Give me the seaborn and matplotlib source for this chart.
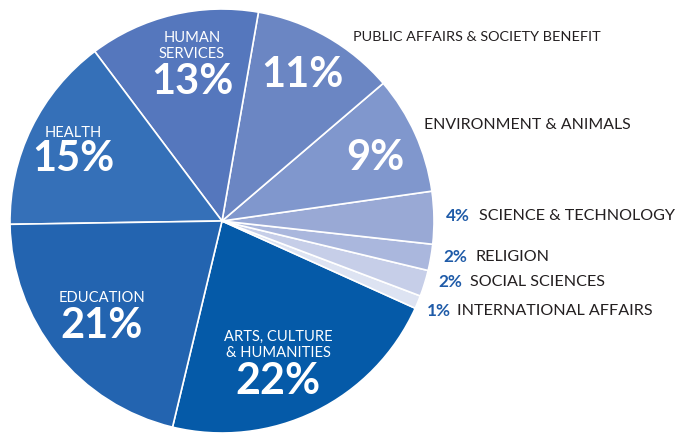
import matplotlib
matplotlib.use('Agg')
import matplotlib.pyplot as plt
import seaborn as sns

sns.set_theme(style='white')
plt.rcParams['font.family'] = ['Lato', 'DejaVu Sans']

# data, in drawing order (counterclockwise from the arts slice)
categories = ['ARTS, CULTURE\n& HUMANITIES', 'INTERNATIONAL AFFAIRS', 'SOCIAL SCIENCES',
              'RELIGION', 'SCIENCE & TECHNOLOGY', 'ENVIRONMENT & ANIMALS',
              'PUBLIC AFFAIRS & SOCIETY BENEFIT', 'HUMAN\nSERVICES', 'HEALTH', 'EDUCATION']
shares = [22, 1, 2, 2, 4, 9, 11, 13, 15, 21]
colors = ['#055aa8', '#dde3f2', '#c6cee8', '#aab7dd', '#99a9d5', '#8097cd',
          '#6b86c3', '#5577bd', '#3570b8', '#2364b0']

W, H = 680, 435
fig = plt.figure(figsize=(W / 100, H / 100), dpi=100)
cx, cy, r = 222, 222, 212
ax = fig.add_axes([(cx - r) / W, (H - cy - r) / H, 2 * r / W, 2 * r / H])

ax.pie(shares, colors=colors, startangle=-103.5, counterclock=True, radius=1,
       wedgeprops=dict(edgecolor='white', linewidth=1.2))
ax.set_xlim(-1, 1)
ax.set_ylim(-1, 1)
ax.set_aspect('equal')
ax.axis('off')


def px(x, y):
    # pixel position in the picture -> data units of the pie
    return (x - cx) / r, (cy - y) / r


dark = '#231f20'
blue = '#1f5ba8'

# labels inside the big slices: (name, pct, name position, pct position)
inside = [
    ('HUMAN\nSERVICES', 13, (192, 46), (192, 82)),
    (None, 11, None, (302, 75)),
    ('HEALTH', 15, (73, 133), (73, 159)),
    (None, 9, None, (375, 158)),
    ('EDUCATION', 21, (102, 298), (102, 326)),
    ('ARTS, CULTURE\n& HUMANITIES', 22, (278, 345), (278, 381)),
]
for name, pct, npos, ppos in inside:
    if name:
        ax.text(*px(*npos), name, color='white', fontsize=10.6, ha='center', va='center',
                linespacing=1.2)
    ax.text(*px(*ppos), f'{pct}%', color='white', fontsize=31 if pct == 22 else 30,
            fontweight='bold', ha='center', va='center')

# labels outside the small slices
ax.text(*px(353, 37), 'PUBLIC AFFAIRS & SOCIETY BENEFIT', color=dark, fontsize=10.4,
        ha='left', va='center', clip_on=False)
ax.text(*px(424, 125), 'ENVIRONMENT & ANIMALS', color=dark, fontsize=11.4,
        ha='left', va='center', clip_on=False)
outside = [
    ('SCIENCE & TECHNOLOGY', 4, 446, 479, 216),
    ('RELIGION', 2, 443, 476, 257),
    ('SOCIAL SCIENCES', 2, 438, 470, 282),
    ('INTERNATIONAL AFFAIRS', 1, 427, 457, 311),
]
for name, pct, xp, xn, y in outside:
    ax.text(*px(xp, y), f'{pct}%', color=blue, fontsize=12.3, fontweight='bold',
            ha='left', va='center', clip_on=False)
    ax.text(*px(xn, y), name, color=dark, fontsize=11.6, ha='left', va='center',
            clip_on=False)

fig.savefig('out.png', dpi=100, facecolor='white')
